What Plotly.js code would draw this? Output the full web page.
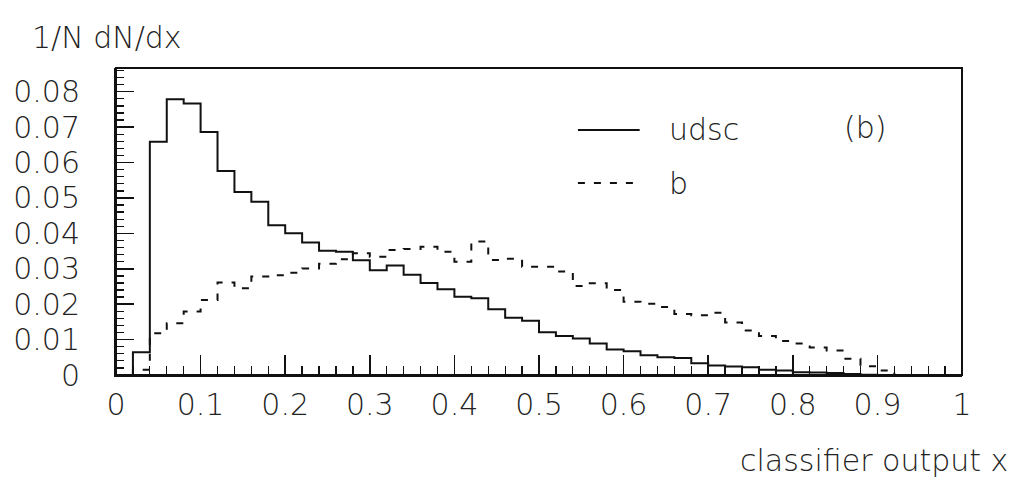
<!DOCTYPE html>
<html>
<head>
<meta charset="utf-8">
<script src="https://cdn.plot.ly/plotly-3.0.1.min.js"></script>
<style>html,body{margin:0;padding:0;background:#fff;}#chart{width:1016px;height:479px;}</style>
</head>
<body>
<div id="chart"></div>
<script>
// Histogram: 50 bins of width 0.02 on [0,1]
const binWidth = 0.02;
const nBins = 50;
const udscValues = [
  0, 0.0064, 0.0659, 0.0779, 0.0767, 0.0686, 0.0576, 0.0517, 0.0489, 0.0423,
  0.0400, 0.0374, 0.0351, 0.0348, 0.0324, 0.0296, 0.0309, 0.0283, 0.0260, 0.0242,
  0.0221, 0.0217, 0.0186, 0.0162, 0.0153, 0.0121, 0.0110, 0.0103, 0.0089, 0.0072,
  0.0067, 0.0056, 0.0050, 0.0048, 0.0033, 0.0027, 0.0024, 0.0022, 0.0015, 0.0013,
  0.0008, 0.0007, 0.0006, 0.0003, 0.0001, 0, 0, 0, 0, 0
];
const bValues = [
  0, 0.0015, 0.0118, 0.0146, 0.0179, 0.0212, 0.0261, 0.0245, 0.0278, 0.0282,
  0.0289, 0.0301, 0.0314, 0.0327, 0.0344, 0.0334, 0.0353, 0.0356, 0.0362, 0.0348,
  0.0320, 0.0377, 0.0325, 0.0328, 0.0306, 0.0306, 0.0292, 0.0251, 0.0259, 0.0240,
  0.0207, 0.0201, 0.0192, 0.0172, 0.0169, 0.0176, 0.0148, 0.0126, 0.0110, 0.0096,
  0.0089, 0.0078, 0.0069, 0.0046, 0.0025, 0.0013, 0, 0, 0, 0
];
const seriesNames = ['udsc', 'b'];
const xTickVals = [0, 0.1, 0.2, 0.3, 0.4, 0.5, 0.6, 0.7, 0.8, 0.9, 1];
const xTickText = ['0', '0.1', '0.2', '0.3', '0.4', '0.5', '0.6', '0.7', '0.8', '0.9', '1'];
const yTickVals = [0, 0.01, 0.02, 0.03, 0.04, 0.05, 0.06, 0.07, 0.08];
const yTickText = ['0', '0.01', '0.02', '0.03', '0.04', '0.05', '0.06', '0.07', '0.08'];
const yLabel = '1/N dN/dx';
const xLabel = 'classifier output x';
const panelLabel = '(b)';

// step outline: bin low edges plus final upper edge
const edges = Array.from({length: nBins + 1}, (_, i) => +(i * binWidth).toFixed(4));
function stepY(vals) { return vals.concat([vals[vals.length - 1]]); }

const FONT = 'DejaVu Sans, Liberation Sans, sans-serif';
const INK = '#111';
const TXT = {family: FONT, size: 30, color: '#222', weight: 200};

const traces = [
  {x: edges, y: stepY(udscValues), name: seriesNames[0], type: 'scatter', mode: 'lines',
   line: {shape: 'hv', color: INK, width: 2}},
  {x: edges, y: stepY(bValues), name: seriesNames[1], type: 'scatter', mode: 'lines',
   line: {shape: 'hv', color: INK, width: 2, dash: '7px,9px'}}
];

const layout = {
  width: 1016, height: 479,
  margin: {l: 116, r: 54, t: 68, b: 104, pad: 0},
  paper_bgcolor: '#fff', plot_bgcolor: '#fff',
  showlegend: false,
  font: TXT,
  xaxis: {
    range: [0, 1], showgrid: false, zeroline: false,
    showline: true, linecolor: INK, linewidth: 2, mirror: false,
    ticks: 'inside', ticklen: 20, tickwidth: 1.5, tickcolor: INK,
    tickvals: xTickVals, ticktext: xTickText,
    minor: {dtick: 0.02, ticks: 'inside', ticklen: 9, tickwidth: 1.3, tickcolor: INK, showgrid: false},
    tickfont: TXT,
    ticklabelstandoff: 2
  },
  yaxis: {
    range: [0, 0.0867], showgrid: false, zeroline: false,
    showline: true, linecolor: INK, linewidth: 2, mirror: false,
    ticks: 'inside', ticklen: 18, tickwidth: 1.5, tickcolor: INK,
    tickvals: yTickVals, ticktext: yTickText,
    minor: {dtick: 0.002, ticks: 'inside', ticklen: 8, tickwidth: 1.3, tickcolor: INK, showgrid: false},
    tickfont: TXT,
    ticklabelstandoff: 28
  },
  shapes: [
    {type: 'rect', xref: 'paper', yref: 'paper', x0: 0, x1: 1, y0: 0, y1: 1,
     line: {color: INK, width: 2}},
    {type: 'line', xref: 'x', yref: 'y', x0: 0.546, x1: 0.619, y0: 0.0692, y1: 0.0692,
     line: {color: INK, width: 2}},
    {type: 'line', xref: 'x', yref: 'y', x0: 0.546, x1: 0.619, y0: 0.0542, y1: 0.0542,
     line: {color: INK, width: 2, dash: '7px,9px'}}
  ],
  annotations: [
    {xref: 'x', yref: 'y', x: 0.651, y: 0.0692, xanchor: 'left', yanchor: 'middle',
     text: seriesNames[0], showarrow: false, font: TXT},
    {xref: 'x', yref: 'y', x: 0.651, y: 0.0542, xanchor: 'left', yanchor: 'middle',
     text: seriesNames[1], showarrow: false, font: TXT},
    {xref: 'x', yref: 'y', x: 0.885, y: 0.0700, xanchor: 'center', yanchor: 'middle',
     text: panelLabel, showarrow: false, font: TXT},
    {xref: 'paper', yref: 'paper', x: -0.102, y: 1.098, xanchor: 'left', yanchor: 'middle',
     text: yLabel, showarrow: false, font: TXT},
    {xref: 'paper', yref: 'paper', x: 1.057, y: -0.277, xanchor: 'right', yanchor: 'middle',
     text: xLabel, showarrow: false, font: TXT}
  ]
};

Plotly.newPlot('chart', traces, layout, {staticPlot: true, displayModeBar: false});
</script>
</body>
</html>
